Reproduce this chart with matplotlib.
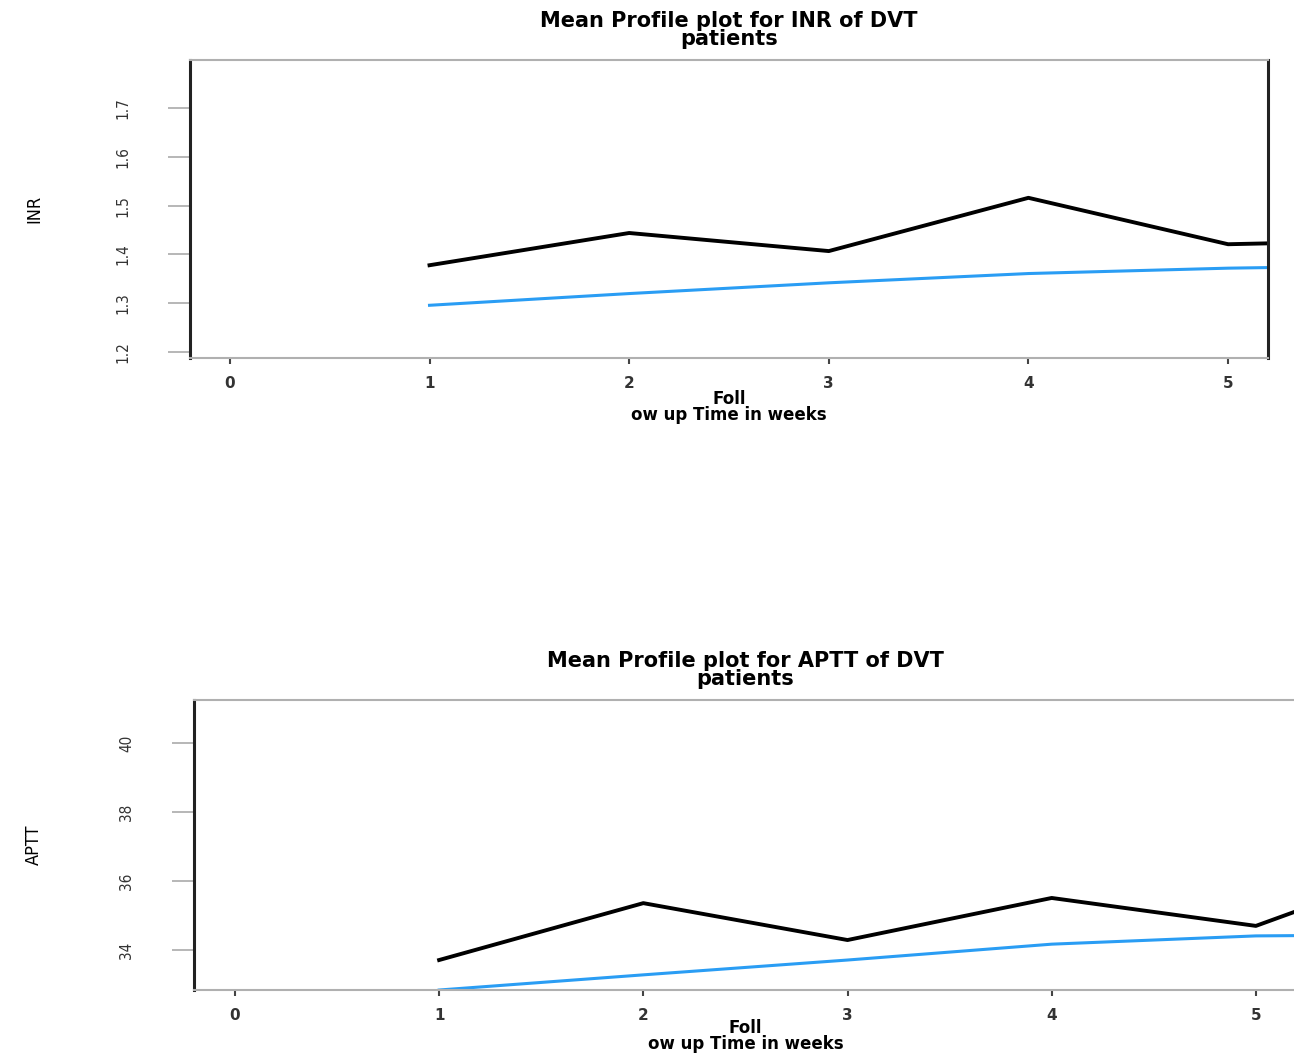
import matplotlib
matplotlib.use("Agg")
import matplotlib.pyplot as plt

# follow-up time points (weeks)
weeks = [1, 2, 3, 4, 5, 6]

# INR mean profile (observed) and fitted trend
inr_mean = [1.378, 1.444, 1.407, 1.516, 1.421, 1.430]
inr_fit = [1.296, 1.320, 1.342, 1.361, 1.372, 1.378]

# APTT mean profile (observed) and fitted trend
aptt_mean = [33.71, 35.36, 34.29, 35.51, 34.70, 36.85]
aptt_fit = [32.84, 33.28, 33.71, 34.17, 34.41, 34.45]

x_ticks = [0, 1, 2, 3, 4, 5]
inr_ticks = [1.2, 1.3, 1.4, 1.5, 1.6, 1.7]
inr_tick_labels = ["1.2", "1.3", "1.4", "1.5", "1.6", "1.7"]
aptt_ticks = [34, 36, 38, 40]
aptt_tick_labels = ["34", "36", "38", "40"]

BLUE = "#2a9df4"
XLABEL = "Foll\now up Time in weeks"
NARROW = ["Liberation Sans Narrow", "DejaVu Sans"]

fig = plt.figure(figsize=(12.94, 10.54), dpi=100)
ax1 = fig.add_axes([0.1468, 0.6603, 0.8331, 0.2827])
ax2 = fig.add_axes([0.1500, 0.0607, 0.8521, 0.2751])


def style_axis(ax, yticks, ylabels, ylim, ylabel, label_x, xlabelpad):
    ax.set_xlim(-0.2, 5.2)
    ax.set_ylim(*ylim)
    ax.set_xticks(x_ticks)
    ax.set_xticklabels([str(t) for t in x_ticks], fontsize=11, fontweight="bold",
                       color="#333333")
    ax.set_yticks(yticks)
    ax.set_yticklabels(ylabels, rotation=90, va="center", fontsize=11,
                       family=NARROW, fontstretch="condensed", color="#333333")
    ax.tick_params(axis="y", length=16, width=1.2, color="#aaaaaa", pad=27)
    ax.tick_params(axis="x", length=4, width=1.5, color="#444444", pad=9)
    for side in ["top", "bottom"]:
        ax.spines[side].set_color("#b0b0b0")
        ax.spines[side].set_linewidth(1.5)
    ax.spines["left"].set_color("#222222")
    ax.spines["left"].set_linewidth(2.2)
    ax.spines["right"].set_color("#222222")
    ax.spines["right"].set_linewidth(2.2)
    ax.set_xlabel(XLABEL, fontsize=12, fontweight="bold", labelpad=xlabelpad,
                  linespacing=0.85)
    ax.set_ylabel(ylabel, fontsize=13, family=NARROW, fontstretch="condensed")
    ax.yaxis.set_label_coords(label_x, 0.5)


ax1.plot(weeks, inr_mean, color="black", linewidth=2.8)
ax1.plot(weeks, inr_fit, color=BLUE, linewidth=2.2)
style_axis(ax1, inr_ticks, inr_tick_labels, (1.188, 1.798), "INR", -0.136, -1)
ax1.set_title("Mean Profile plot for INR of DVT\npatients", fontsize=15,
              fontweight="bold", linespacing=0.85, pad=11)

ax2.plot(weeks, aptt_mean, color="black", linewidth=2.8)
ax2.plot(weeks, aptt_fit, color=BLUE, linewidth=2.2)
style_axis(ax2, aptt_ticks, aptt_tick_labels, (32.84, 41.25), "APTT", -0.137, -3)
ax2.set_title("Mean Profile plot for APTT of DVT\npatients", fontsize=15,
              fontweight="bold", linespacing=0.85, pad=11)

fig.savefig("out.png", dpi=100)
